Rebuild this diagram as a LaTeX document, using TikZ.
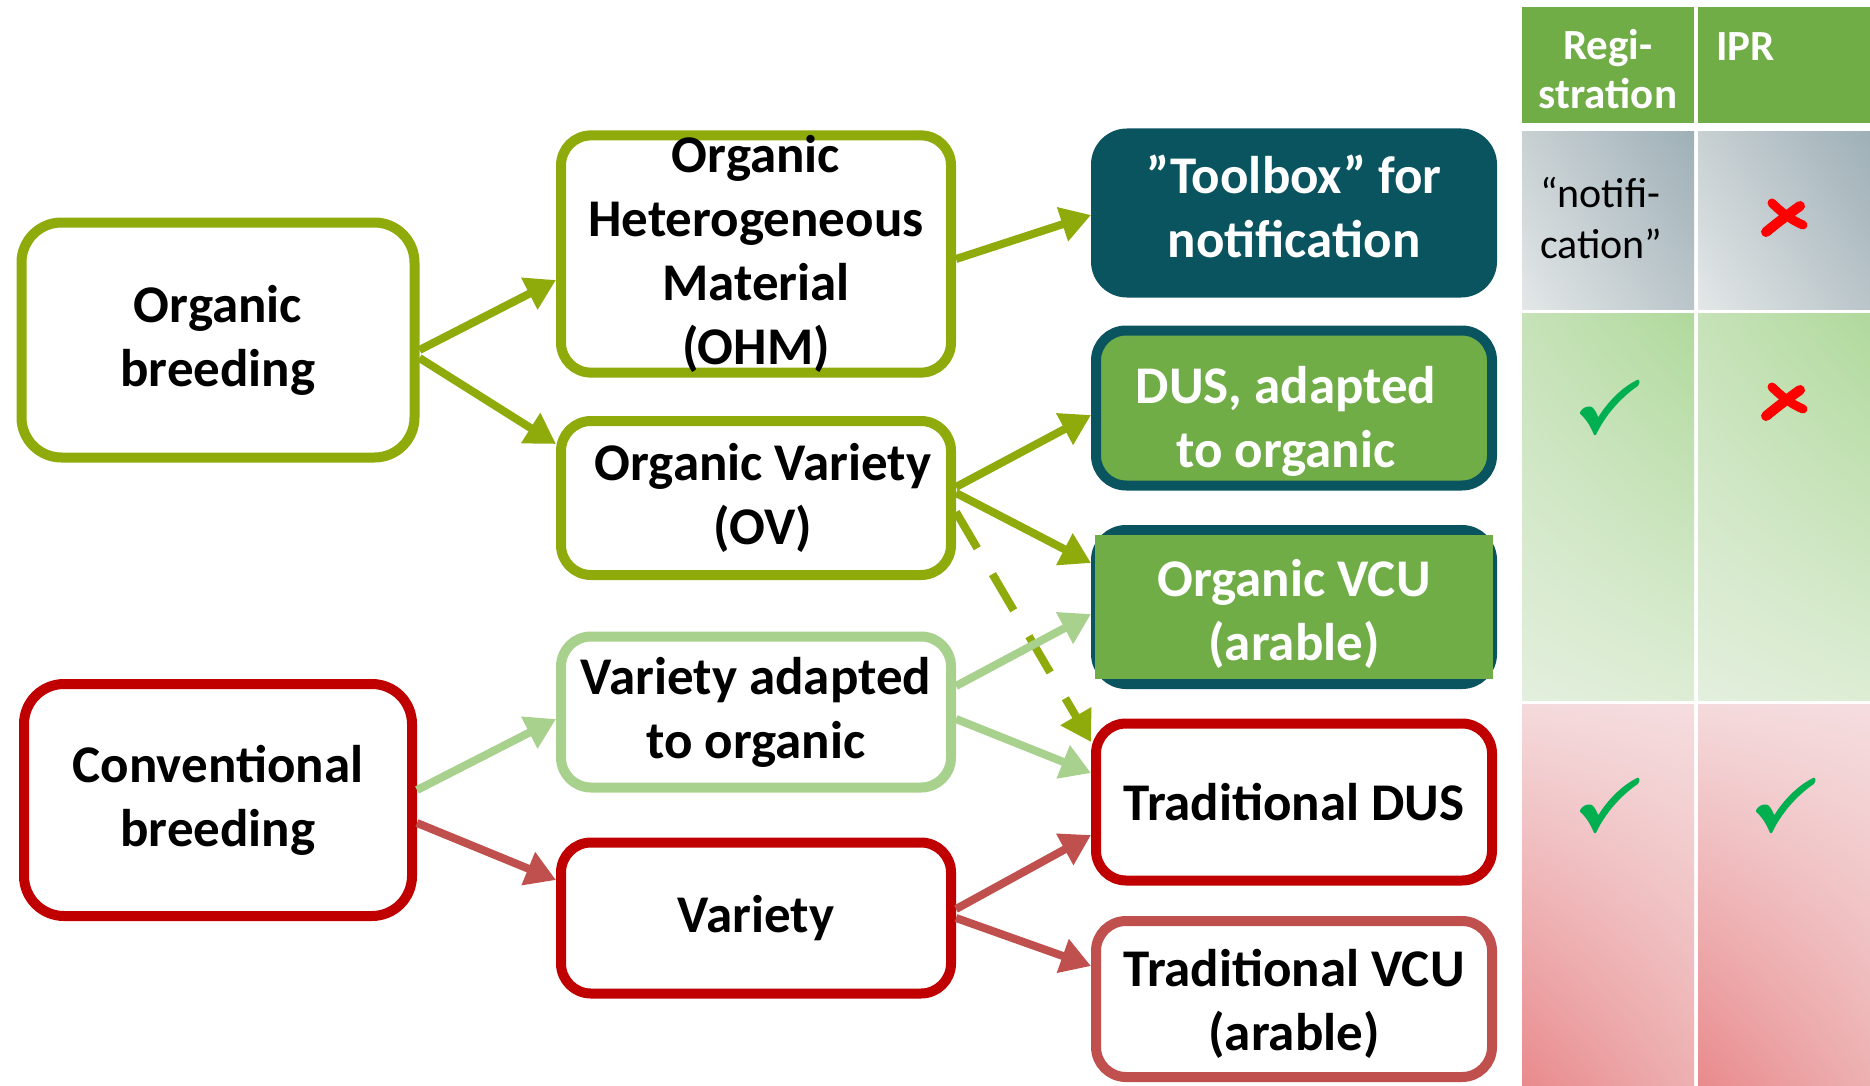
\documentclass[tikz,border=0pt]{standalone}
\usepackage{fontspec}
\setmainfont{Carlito}
\usetikzlibrary{arrows.meta,shadings}
\pgfdeclarelayer{bg}
\pgfsetlayers{bg,main}
\definecolor{cOlive}{HTML}{8FAA0B}
\definecolor{cLight}{HTML}{A9D18E}
\definecolor{cRed}{HTML}{C00000}
\definecolor{cRedA}{HTML}{C0504D}
\definecolor{cTeal}{HTML}{0A5460}
\definecolor{cGreen}{HTML}{70AD47}
\definecolor{cCheck}{HTML}{00B050}
\definecolor{cCross}{HTML}{FF0000}
\definecolor{gUL}{HTML}{C8D0D3}
\definecolor{gUR}{HTML}{9EB0B7}
\definecolor{gLL}{HTML}{E3E7E8}
\definecolor{gLR}{HTML}{BAC5C9}
\definecolor{nUL}{HTML}{C6E2B8}
\definecolor{nUR}{HTML}{B0D99C}
\definecolor{nLL}{HTML}{E3EFDD}
\definecolor{nLR}{HTML}{DDEDD5}
\definecolor{pUL}{HTML}{F4DADC}
\definecolor{pUR}{HTML}{F5DDDF}
\definecolor{pLL}{HTML}{E98A8C}
\definecolor{pLR}{HTML}{EDB0B1}
\begin{document}
\begin{tikzpicture}[x=1pt,y=-1pt,
  txt/.style={font=\bfseries\fontsize{53}{64}\selectfont, align=center},
  box/.style={txt, rectangle, rounded corners=30pt, line width=10pt, fill=white, inner sep=0pt},
  arr/.style={line width=8pt, -{Triangle[length=30pt,width=34pt]}},
  hdr/.style={font=\bfseries\fontsize{43}{49}\selectfont, text=white, align=center, inner sep=0pt},
  chk/.pic={\filldraw[cCheck, line width=2.5pt, line join=round] (-28,6) .. controls (-26,2) and (-22,0) .. (-18,1)
      .. controls (-15,3) and (-13,8) .. (-11,13)
      .. controls (-1,-4) and (14,-19) .. (29,-26)
      .. controls (29.5,-25) and (29,-23) .. (28,-22)
      .. controls (12,-11) and (-4,6) .. (-14,27)
      .. controls (-17,20) and (-21,12) .. (-28,6) -- cycle;},
  crs/.pic={\draw[cCross, line width=9pt, line cap=round] (-13,-14) .. controls (-4,-5) and (6,3) .. (18,8);
      \draw[cCross, line width=10pt, line cap=round] (15,-11) .. controls (5,-4) and (-8,6) .. (-19,15);}
]
\useasboundingbox (0,0) rectangle (1870,1086);
\begin{pgfonlayer}{bg}
\fill[white] (0,0) rectangle (1870,1086);
\end{pgfonlayer}

% table
\fill[cGreen] (1522,7) rectangle (1694,123);
\fill[cGreen] (1698,7) rectangle (1870,123);
\shade[upper left=gUL, upper right=gUR, lower left=gLL, lower right=gLR] (1522,132) rectangle (1694,309);
\shade[upper left=gUL, upper right=gUR, lower left=gLL, lower right=gLR] (1698,132) rectangle (1870,309);
\shade[upper left=nUL, upper right=nUR, lower left=nLL, lower right=nLR] (1522,313) rectangle (1694,700);
\shade[upper left=nUL, upper right=nUR, lower left=nLL, lower right=nLR] (1698,313) rectangle (1870,700);
\shade[upper left=pUL, upper right=pUR, lower left=pLL, lower right=pLR] (1522,704) rectangle (1694,1086);
\shade[upper left=pUL, upper right=pUR, lower left=pLL, lower right=pLR] (1698,704) rectangle (1870,1086);
\node[hdr] (hreg) at (1608,69) {Regi-\\stration};
\node[hdr, anchor=base west] (hipr) at (1716,61) {IPR};
\node[font=\fontsize{42}{51}\selectfont, align=left, inner sep=0pt, anchor=west] (notif) at (1540,218) {“notifi-\\cation”};
\pic at (1785,217) {crs};
\pic at (1785,401) {crs};
\pic at (1609,407) {chk};
\pic at (1609,805) {chk};
\pic at (1785,805) {chk};

% boxes
\node[box, draw=cOlive, minimum width=393pt, minimum height=235pt, rounded corners=40pt] (ob) at (218,340) {Organic\\breeding};
\node[box, draw=cRed, minimum width=388pt, minimum height=232pt, rounded corners=40pt] (cb) at (218,800) {Conventional\\breeding};
\node[box, draw=cOlive, minimum width=390pt, minimum height=236pt] (ohm) at (756,254) {Organic\\Heterogeneous\\Material\\(OHM)};
\node[box, draw=cOlive, minimum width=390pt, minimum height=154pt] (ov) at (756,498) {\hspace*{14pt}Organic Variety\\\hspace*{14pt}(OV)};
\node[box, draw=cLight, minimum width=390pt, minimum height=151pt] (va) at (756,712) {Variety adapted\\to organic};
\node[box, draw=cRed, minimum width=390pt, minimum height=151pt] (var) at (756,918) {Variety};
\node[box, draw=none, fill=cTeal, text=white, minimum width=406pt, minimum height=169pt, rounded corners=36pt, outer sep=0pt] (tb) at (1294,213) {”Toolbox” for\\notification\rule[-14pt]{0pt}{0pt}};
\node[box, draw=cTeal, fill=cGreen, text=white, minimum width=396pt, minimum height=155pt] (dusa) at (1294,408) {\rule{0pt}{64pt}DUS, adapted\hspace*{16pt}\\to organic\hspace*{16pt}};
\node[box, draw=none, fill=none, text=white, minimum width=396pt, minimum height=154pt, outer sep=5pt] (ovcu) at (1294,607) {\rule{0pt}{52pt}Organic VCU\\(arable)};
\begin{pgfonlayer}{bg}
\draw[cTeal, fill=cGreen, line width=10pt, rounded corners=30pt] ([shift={(5pt,-5pt)}]ovcu.north west) rectangle ([shift={(-5pt,5pt)}]ovcu.south east);
\fill[cGreen] ([shift={(4pt,-10pt)}]ovcu.north west) rectangle ([shift={(-4pt,10pt)}]ovcu.south east);
\end{pgfonlayer}
\node[box, draw=cRed, minimum width=396pt, minimum height=157pt] (tdus) at (1294,802) {Traditional DUS};
\node[box, draw=cRedA, minimum width=396pt, minimum height=156pt] (tvcu) at (1294,999) {\rule{0pt}{47pt}Traditional VCU\\(arable)};

% arrows
\draw[arr, cOlive] ([yshift=-10pt]ob.east) -- ([yshift=-26pt]ohm.west);
\draw[arr, cOlive] ([yshift=-18pt]ob.east) -- ([yshift=54pt]ov.west);
\draw[arr, cOlive] ([yshift=-5pt]ohm.east) -- ([yshift=-2pt]tb.west);
\draw[arr, cOlive] ([yshift=11pt]ov.east) -- ([yshift=-7pt]dusa.west);
\draw[arr, cOlive] ([yshift=5pt]ov.east) -- ([yshift=44pt]ovcu.west);
\draw[arr, cOlive, dash pattern=on 42pt off 30pt] ([yshift=-14pt]ov.east) -- ([yshift=60pt]tdus.west);
\draw[arr, cLight] ([yshift=26pt]va.east) -- ([yshift=-7pt]ovcu.west);
\draw[arr, cLight] ([yshift=-7pt]va.east) -- ([yshift=29pt]tdus.west);
\draw[arr, cLight] ([yshift=10pt]cb.east) -- ([yshift=-7pt]va.west);
\draw[arr, cRedA] ([yshift=-23pt]cb.east) -- ([yshift=38pt]var.west);
\draw[arr, cRedA] ([yshift=9pt]var.east) -- ([yshift=-33pt]tdus.west);
\draw[arr, cRedA] (var.east) -- ([yshift=33pt]tvcu.west);
\end{tikzpicture}
\end{document}
